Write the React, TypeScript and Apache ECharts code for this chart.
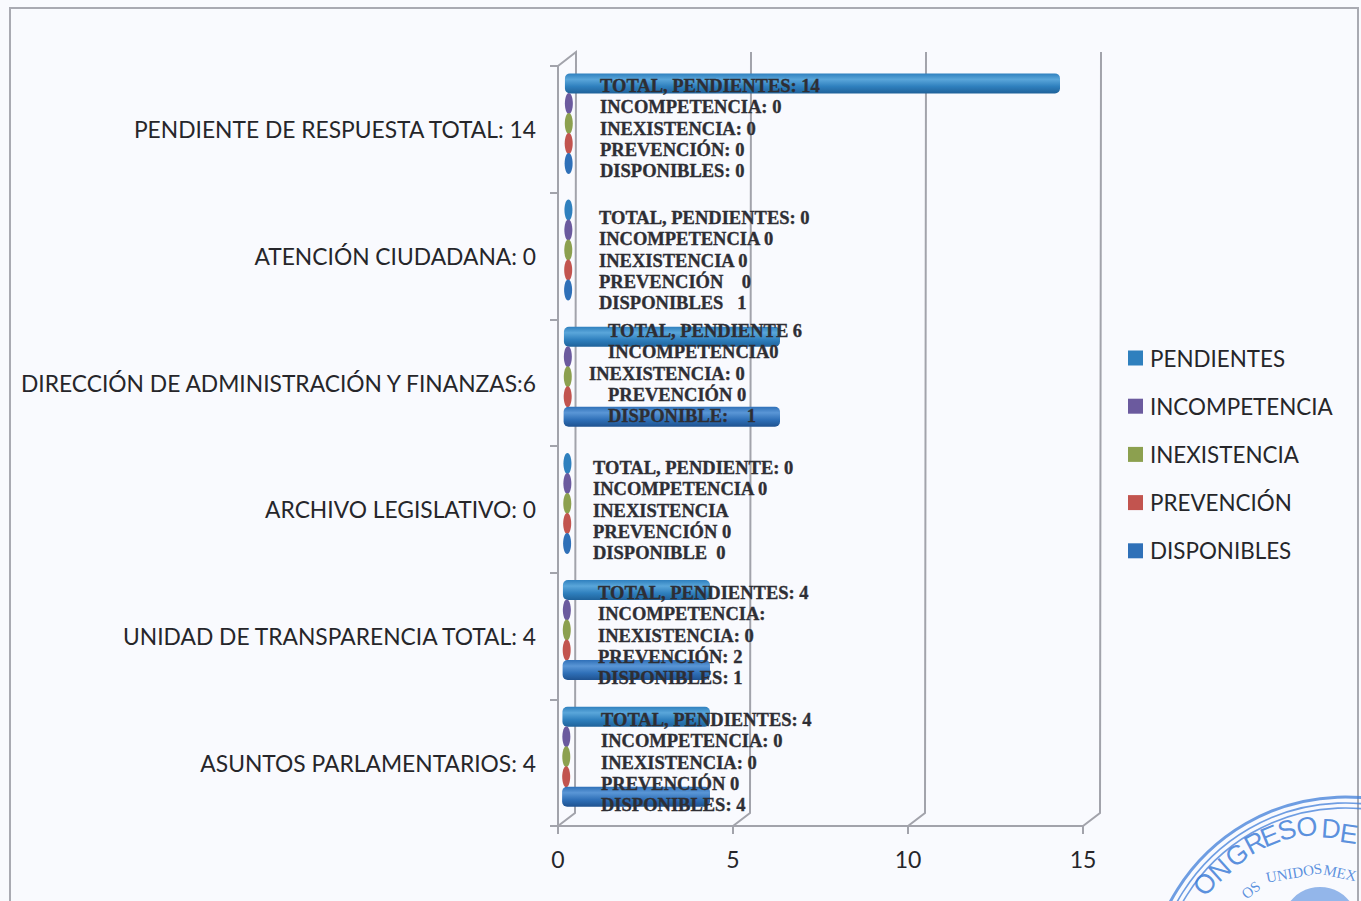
import React, { useEffect, useRef } from "react";
import * as echarts from "echarts";

const categories = [
  "ASUNTOS PARLAMENTARIOS: 4",
  "UNIDAD DE TRANSPARENCIA TOTAL: 4",
  "ARCHIVO LEGISLATIVO: 0",
  "DIRECCIÓN DE ADMINISTRACIÓN Y FINANZAS:6",
  "ATENCIÓN CIUDADANA: 0",
  "PENDIENTE DE RESPUESTA TOTAL: 14",
];
const pendientes = [4, 4, 0, 6, 0, 14];
const incompetencia = [0, 0, 0, 0, 0, 0];
const inexistencia = [0, 0, 0, 0, 0, 0];
const prevencion = [0, 0, 0, 0, 0, 0];
const disponibles = [4, 4, 0, 6, 0, 0];
const wallTicks = [0, 5, 10, 15];

const noteLines = [
  ["TOTAL, PENDIENTES: 14", "INCOMPETENCIA: 0", "INEXISTENCIA: 0", "PREVENCIÓN: 0", "DISPONIBLES: 0"],
  ["TOTAL, PENDIENTES: 0", "INCOMPETENCIA 0", "INEXISTENCIA 0", "PREVENCIÓN    0", "DISPONIBLES   1"],
  ["TOTAL, PENDIENTE 6", "INCOMPETENCIA0", "INEXISTENCIA: 0", "PREVENCIÓN 0", "DISPONIBLE:    1"],
  ["TOTAL, PENDIENTE: 0", "INCOMPETENCIA 0", "INEXISTENCIA", "PREVENCIÓN 0", "DISPONIBLE  0"],
  ["TOTAL, PENDIENTES: 4", "INCOMPETENCIA:", "INEXISTENCIA: 0", "PREVENCIÓN: 2", "DISPONIBLES: 1"],
  ["TOTAL, PENDIENTES: 4", "INCOMPETENCIA: 0", "INEXISTENCIA: 0", "PREVENCIÓN 0", "DISPONIBLES: 4"],
];
const noteLeft = [
  [600, 600, 600, 600, 600],
  [599, 599, 599, 599, 599],
  [608, 608, 589, 608, 608],
  [593, 593, 593, 593, 593],
  [598, 598, 598, 598, 598],
  [601, 601, 601, 601, 601],
];
const noteTop = [85.7, 217.7, 330.7, 467.7, 592.7, 719.7];

const stampLetters: [string, number, number, number][] = [
  ["O", 1205, 884, 50],
  ["N", 1220, 870, 42],
  ["G", 1237, 855, 36],
  ["R", 1255, 843, 28],
  ["E", 1270, 836, 22],
  ["S", 1287, 830, 16],
  ["O", 1307, 827, 8],
  ["D", 1331, 829, -4],
  ["E", 1349, 834, -8],
];

const seriesDefs = [
  { name: "PENDIENTES", data: pendientes, color: "#2F80BE", light: "#5AA6DA", dark: "#1F629A" },
  { name: "INCOMPETENCIA", data: incompetencia, color: "#6B5A9E", light: "#8D7DBB", dark: "#4F4080" },
  { name: "INEXISTENCIA", data: inexistencia, color: "#8CA04F", light: "#A8BC6A", dark: "#6D8238" },
  { name: "PREVENCIÓN", data: prevencion, color: "#C2544F", light: "#D9736E", dark: "#9C3A36" },
  { name: "DISPONIBLES", data: disponibles, color: "#2F70B8", light: "#5A96D6", dark: "#1F5290" },
];

const FG = "#26262A";
const SIDE = "Lato, Carlito, 'Noto Sans', sans-serif";
const WALL = "#A2A3AB";
const INK = "#3F7ED8";

function barRenderer(def: (typeof seriesDefs)[number], index: number) {
  return (params: any, api: any) => {
    const v = api.value(0);
    const cat = api.value(1);
    const base = api.coord([0, cat]);
    const end = api.coord([v, cat]);
    const band = api.size([0, 1])[1];
    const y = base[1] - band * 0.047 + (index - 2) * 20;
    const lean = ((params.coordSys.y + params.coordSys.height - y) / params.coordSys.height) * 3;
    const cx = base[0] + 8 + lean;
    const fill = new echarts.graphic.LinearGradient(0, 0, 0, 1, [
      { offset: 0, color: def.color },
      { offset: 0.3, color: def.light },
      { offset: 0.65, color: def.color },
      { offset: 1, color: def.dark },
    ]);
    if (v === 0) {
      return { type: "ellipse", shape: { cx, cy: y, rx: 4, ry: 10.5 }, style: { fill: def.color } };
    }
    return {
      type: "rect",
      shape: { x: cx - 4, y: y - 10, width: end[0] + 12 - (cx - 4), height: 20, r: 5 },
      style: { fill },
    };
  };
}

const wallRenderer = (params: any, api: any) => {
  const x = api.coord([api.value(0), 0])[0];
  const cs = params.coordSys;
  const bottom = cs.y + cs.height;
  const top = cs.y - 14;
  const points =
    api.value(0) === 0
      ? [[x, bottom], [x + 17, bottom - 13], [x + 18, top], [x, cs.y]]
      : [[x, bottom], [x + 17, bottom - 13], [x + 18, top]];
  return {
    type: "polyline",
    shape: { points },
    style: { stroke: WALL, lineWidth: 2, fill: "none" },
  };
};

function buildNotes() {
  const out: any[] = [];
  noteLines.forEach((lines, g) => {
    lines.forEach((text, i) => {
      out.push({
        type: "text",
        x: noteLeft[g][i],
        y: noteTop[g] + i * 21.4,
        z: 100,
        style: {
          text,
          fill: "#2E2E34",
          stroke: "#2E2E34",
          lineWidth: 0.35,
          font: "bold 18.5px 'Liberation Serif', serif",
          textAlign: "left",
          textVerticalAlign: "middle",
        },
      });
    });
  });
  return out;
}

function buildStamp() {
  const out: any[] = [];
  const cx = 1345;
  const cy = 995;
  [198, 192, 187].forEach((r, i) => {
    out.push({
      type: "circle",
      shape: { cx, cy, r },
      z: 90,
      style: { fill: "none", stroke: INK, lineWidth: i === 0 ? 3 : 1.6, opacity: 0.75 },
    });
  });
  stampLetters.forEach(([text, x, y, rot]) => {
    out.push({
      type: "text",
      x,
      y,
      rotation: (rot * Math.PI) / 180,
      z: 90,
      style: {
        text,
        fill: INK,
        opacity: 0.85,
        font: "27px 'Liberation Sans', sans-serif",
        textAlign: "center",
        textVerticalAlign: "middle",
      },
    });
  });
  [
    ["OS", 1251, 890, 38],
    ["UNIDOS", 1294, 873, 10],
    ["MEX", 1340, 873, -12],
  ].forEach(([text, x, y, rot]: any) => {
    out.push({
      type: "text",
      x,
      y,
      rotation: (rot * Math.PI) / 180,
      z: 90,
      style: {
        text,
        fill: INK,
        opacity: 0.85,
        font: "15px 'Liberation Serif', serif",
        textAlign: "center",
        textVerticalAlign: "middle",
      },
    });
  });
  out.push({
    type: "circle",
    shape: { cx: 1320, cy: 925, r: 38 },
    z: 90,
    style: { fill: INK, opacity: 0.55 },
  });
  return out;
}

export default function App() {
  const ref = useRef<HTMLDivElement>(null);
  useEffect(() => {
    const chart = echarts.init(ref.current!, undefined, { renderer: "svg" });
    chart.setOption({
      animation: false,
      backgroundColor: "#F9FAFE",
      color: seriesDefs.map((d) => d.color),
      grid: { left: 558, top: 66, width: 525, height: 760, containLabel: false },
      xAxis: {
        type: "value",
        min: 0,
        max: 15,
        interval: 5,
        position: "bottom",
        splitLine: { show: false },
        axisLine: { show: true, lineStyle: { color: WALL, width: 2 } },
        axisTick: { show: true, length: 8, lineStyle: { color: WALL, width: 2 } },
        axisLabel: { margin: 21, color: FG, fontFamily: SIDE, fontSize: 23 },
      },
      yAxis: {
        type: "category",
        data: categories,
        axisLine: { show: true, lineStyle: { color: WALL, width: 2 } },
        axisTick: { show: true, length: 8, alignWithLabel: false, lineStyle: { color: WALL, width: 2 } },
        axisLabel: { margin: 22, color: FG, fontFamily: SIDE, fontSize: 22.8, interval: 0, padding: [5, 0, 0, 0] },
      },
      legend: {
        data: seriesDefs.map((d) => d.name),
        orient: "vertical",
        left: 1123,
        top: 342,
        icon: "rect",
        itemWidth: 15,
        itemHeight: 15,
        itemGap: 26.2,
        textStyle: { color: FG, fontFamily: SIDE, fontSize: 22.4, padding: [0, 0, 0, 2] },
      },
      series: [
        {
          type: "custom",
          name: "paredes",
          z: 1,
          clip: false,
          silent: true,
          data: wallTicks.map((t) => [t]),
          encode: { x: 0 },
          renderItem: wallRenderer,
        },
        ...seriesDefs.map((def, i) => ({
          type: "custom",
          name: def.name,
          z: 3,
          clip: false,
          itemStyle: { color: def.color },
          data: def.data.map((v, c) => [v, c]),
          encode: { x: 0, y: 1 },
          renderItem: barRenderer(def, i),
        })),
      ],
      graphic: [
        {
          type: "rect",
          shape: { x: 10, y: 8, width: 1348, height: 910 },
          z: 0,
          style: { fill: "none", stroke: "#A9AAB2", lineWidth: 2 },
        },
        ...buildStamp(),
        ...buildNotes(),
      ],
    });
    return () => chart.dispose();
  }, []);
  return <div ref={ref} style={{ position: "absolute", left: 0, top: 0, width: 1361, height: 901 }} />;
}
